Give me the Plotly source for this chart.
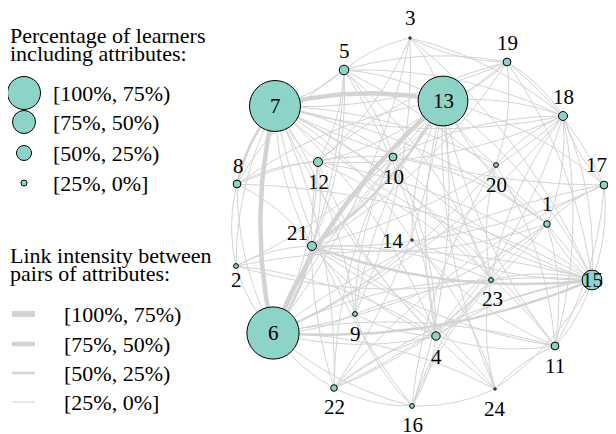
import numpy as np
import plotly.graph_objects as go

# attribute nodes: label, layout position, % of learners including the attribute
node_labels = [str(i) for i in range(1, 25)]
node_x = [547, 236, 410, 436, 344, 273, 275, 237, 355, 393, 555, 318,
          443, 412, 592, 412, 604, 563, 507, 496, 312, 334, 491, 495]
node_y = [224, 266, 38, 336, 70, 333, 106, 184, 314, 157, 346, 162,
          101, 240, 280, 406, 185, 116, 62, 165, 246, 388, 280, 389]
node_pct = [11, 8, 4, 14, 16, 87, 85, 13, 8, 13, 13, 15,
            83, 4, 33, 8, 13, 15, 13, 8, 15, 11, 8, 4]

# links between attributes: (from, to, % intensity)
links = [
    (6, 7, 68), (7, 13, 70), (6, 13, 72),
    (15, 6, 30), (15, 21, 28), (8, 7, 28), (13, 21, 30), (21, 6, 27),
    (3, 13, 8), (3, 6, 6), (3, 12, 5), (3, 18, 7), (3, 15, 5), (3, 9, 4),
    (19, 3, 5), (5, 3, 5), (24, 16, 5),
    (5, 7, 12), (5, 13, 14), (5, 6, 10), (5, 21, 9), (5, 19, 8), (5, 18, 9),
    (5, 10, 6), (5, 4, 7), (5, 15, 8), (5, 23, 5), (5, 12, 6),
    (19, 7, 10), (19, 13, 12), (19, 18, 8), (19, 20, 5), (6, 19, 7),
    (19, 15, 8), (19, 21, 6), (12, 19, 5), (19, 17, 6),
    (18, 7, 12), (13, 18, 14), (18, 6, 10), (18, 15, 11), (18, 1, 7),
    (17, 18, 9), (18, 21, 7), (18, 12, 6), (10, 18, 6), (18, 4, 7),
    (20, 18, 5), (18, 11, 8), (23, 18, 5),
    (8, 13, 8), (6, 8, 9), (8, 15, 7), (8, 21, 6), (2, 8, 5), (8, 12, 6),
    (8, 10, 5), (8, 5, 7),
    (12, 7, 14), (13, 12, 10), (12, 6, 9), (12, 21, 8), (12, 15, 7),
    (4, 12, 6), (12, 11, 7), (22, 12, 5),
    (7, 10, 11), (10, 13, 12), (6, 10, 9), (10, 21, 7), (15, 10, 7),
    (10, 4, 6), (22, 10, 5), (10, 1, 6),
    (20, 13, 7), (7, 20, 6), (20, 6, 6), (23, 20, 5), (20, 11, 5), (16, 20, 4),
    (13, 17, 9), (17, 15, 10), (6, 17, 7), (17, 7, 8), (1, 17, 6),
    (17, 21, 6), (22, 17, 5), (17, 11, 6),
    (1, 13, 13), (7, 1, 10), (1, 6, 11), (15, 1, 12), (1, 21, 7), (4, 1, 8),
    (1, 22, 6), (16, 1, 5), (1, 11, 7),
    (21, 7, 14), (2, 21, 6), (21, 9, 6), (4, 21, 8), (21, 23, 7),
    (11, 21, 6), (21, 24, 5),
    (14, 13, 7), (7, 14, 6), (14, 6, 7), (15, 14, 6), (14, 24, 4), (11, 14, 5),
    (2, 7, 8), (6, 2, 9), (13, 2, 7), (2, 15, 6), (2, 4, 5), (23, 2, 5),
    (15, 7, 18), (13, 15, 20), (23, 15, 10), (15, 11, 11), (4, 15, 9),
    (9, 15, 7), (15, 24, 6), (22, 15, 7),
    (23, 13, 9), (7, 23, 8), (6, 23, 9), (23, 4, 7), (24, 23, 5),
    (23, 22, 6), (16, 23, 5),
    (9, 6, 10), (7, 9, 8), (9, 13, 8), (4, 9, 6), (9, 10, 5), (16, 9, 5),
    (4, 6, 13), (7, 4, 11), (4, 13, 12), (22, 4, 8), (4, 16, 7), (11, 4, 8),
    (11, 13, 12), (7, 11, 10), (6, 11, 11), (24, 11, 6),
    (22, 6, 12), (13, 22, 9), (7, 22, 8), (16, 22, 7),
    (24, 13, 7), (6, 24, 6), (24, 7, 5),
    (16, 6, 9), (13, 16, 8), (16, 7, 6),
]

size_bins = ["[100%, 75%)", "[75%, 50%)", "[50%, 25%)", "[25%, 0%]"]

TEAL = "#8dd3c7"
GRAY = "#d3d3d3"
FONT = "Liberation Serif"
BIN_WIDTH = [6, 4.5, 2.5, 1]
LEGEND_DOT = [33, 23, 15, 6]
RAD = 0.12
PAGE_PAD = 8  # browser body margin around the plot div

# label offsets in pixels (xshift, yshift), big nodes keep label inside
label_shift = {
    1: (0, 20), 2: (0, -14), 3: (0, 20), 4: (0, -21), 5: (0, 19),
    8: (1, 18), 9: (0, -20), 10: (0, -20), 11: (0, -20), 12: (0, -20),
    14: (-19, -1), 16: (0, -19), 17: (-8, 20), 18: (0, 19), 19: (0, 19),
    20: (0, -20), 21: (-15, 13), 22: (0, -19), 23: (1, -19), 24: (0, -20),
}


def pct_bin(p):
    if p >= 75:
        return 0
    if p >= 50:
        return 1
    if p >= 25:
        return 2
    return 3


def arc(u, v, n=30):
    x0, y0 = node_x[u - 1], node_y[u - 1]
    x2, y2 = node_x[v - 1], node_y[v - 1]
    dx, dy = x2 - x0, y2 - y0
    cx = (x0 + x2) / 2 + RAD * dy
    cy = (y0 + y2) / 2 - RAD * dx
    t = np.linspace(0, 1, n)
    bx = (1 - t) ** 2 * x0 + 2 * (1 - t) * t * cx + t ** 2 * x2
    by = (1 - t) ** 2 * y0 + 2 * (1 - t) * t * cy + t ** 2 * y2
    return list(bx) + [None], list(by) + [None]


fig = go.Figure()

# edges, one trace per intensity bin (thin first)
for b in [3, 2, 1, 0]:
    xs, ys = [], []
    for u, v, p in links:
        if pct_bin(p) == b:
            ax, ay = arc(u, v)
            xs += ax
            ys += ay
    if xs:
        fig.add_trace(go.Scatter(
            x=xs, y=ys, mode="lines", hoverinfo="skip",
            line=dict(color=GRAY, width=BIN_WIDTH[b]),
        ))

# nodes
fig.add_trace(go.Scatter(
    x=node_x, y=node_y, mode="markers", text=node_labels,
    marker=dict(size=[p * 0.6 for p in node_pct], color=TEAL,
                line=dict(color="black", width=1), opacity=1),
))

for i, lab in enumerate(node_labels):
    sx, sy = label_shift.get(i + 1, (0, 0))
    fig.add_annotation(
        x=node_x[i], y=node_y[i], text=lab, showarrow=False,
        xshift=sx, yshift=sy, font=dict(family=FONT, size=21, color="black"),
    )

# legend: node size
fig.add_trace(go.Scatter(
    x=[24] * 4, y=[93, 122, 153, 183], mode="markers", hoverinfo="skip",
    marker=dict(size=LEGEND_DOT, color=TEAL, opacity=1,
                line=dict(color="black", width=1)),
))
# legend: link width
for b, y in enumerate([314, 344, 373, 402]):
    fig.add_trace(go.Scatter(
        x=[12, 35], y=[y, y], mode="lines", hoverinfo="skip",
        line=dict(color=GRAY, width=BIN_WIDTH[b]),
    ))

legend_text = [
    ("Percentage of learners", 8, 35), ("including attributes:", 8, 53),
    ("Link intensity between", 8, 255), ("pairs of attributes:", 8, 273),
]
for b, y in enumerate([93, 122, 153, 183]):
    legend_text.append((size_bins[b], 51, y))
for b, y in enumerate([314, 344, 373, 402]):
    legend_text.append((size_bins[b], 62, y))

for txt, x, y in legend_text:
    fig.add_annotation(
        x=x, y=y, text=txt, showarrow=False, xanchor="left", yanchor="middle",
        font=dict(family=FONT, size=22, color="black"),
    )

fig.update_layout(
    width=616 - PAGE_PAD, height=434 - PAGE_PAD,
    margin=dict(l=0, r=0, t=0, b=0),
    showlegend=False, plot_bgcolor="white", paper_bgcolor="white",
    xaxis=dict(range=[PAGE_PAD, 616], visible=False, fixedrange=True),
    yaxis=dict(range=[434, PAGE_PAD], visible=False, fixedrange=True),
)

fig.write_html("out.html")
